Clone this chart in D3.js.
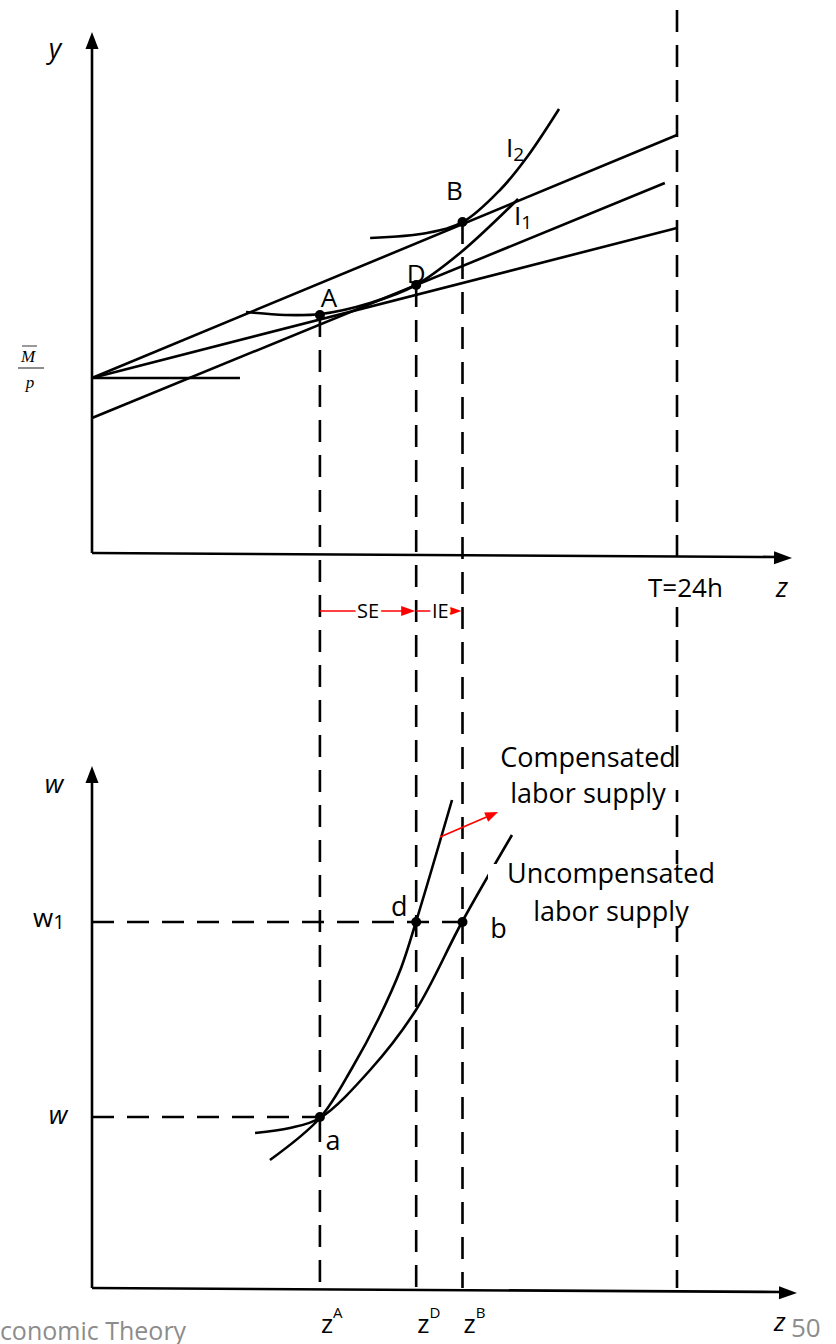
<!DOCTYPE html>
<html lang="en">
<head>
  <meta charset="UTF-8" />
  <title>Slutsky decomposition – labor supply</title>
  <script src="https://d3js.org/d3.v7.min.js"></script>
  <style>
    html, body { margin: 0; padding: 0; background: #fff; }
    svg text { font-family: "Open Sans", sans-serif; fill: #000; }
    .it { font-style: italic; }
    .serif { font-family: "Liberation Serif", "DejaVu Serif", serif; font-style: italic; }
    .grey { fill: #8c8c8c; }
  </style>
</head>
<body>
<div id="chart"></div>
<script>
  // z = leisure hours, v = consumption (top panel), w = wage (bottom panel)
  const zMarks = [9.35, 13.3, 15.2];          // zA, zD, zB
  const zMarkNames = ["A", "D", "B"];
  const zT = 24;                               // T = 24h

  // budget lines, [z, v]
  const endowmentLine = [[0, 35], [6.07, 35]];
  const budgetOriginal = [[0, 35], [24, 65.0]];
  const budgetNew = [[0, 35], [24, 83.6]];
  const budgetComp = [[0, 27], [23.5, 74]];

  // indifference curves
  const curveI1 = [[6.32, 48.2], [7.92, 47.6], [9.39, 47.8], [11.41, 50.0], [13.29, 53.6], [15.10, 60.0], [17.48, 70.8]];
  const curveI2 = [[11.41, 63.0], [13.74, 64.0], [15.22, 66.2], [16.74, 72.6], [17.85, 79.2], [19.16, 88.8]];

  // chosen bundles
  const topPoints = [[9.35, 47.6], [13.3, 53.6], [15.2, 66.2]];

  // labor supply curves, [z, w]
  const compSupply = [[7.30, 2.56], [9.35, 3.40], [10.67, 4.40], [11.77, 5.40], [12.68, 6.40], [13.29, 7.32], [14.77, 9.76]];
  const uncompSupply = [[6.69, 3.10], [8.12, 3.20], [9.35, 3.40], [11.41, 4.36], [13.29, 5.56], [15.18, 7.32], [17.23, 9.06]];
  const wLevels = [3.42, 7.32];                // w, w1
  const bottomPoints = [[9.35, 3.42], [13.3, 7.32], [15.2, 7.32]];
  const bottomNames = ["a", "d", "b"];
  const shiftArrow = [[14.28, 9.02], [16.66, 9.52]];

  const W = 836, H = 1344;
  const svg = d3.select("#chart").append("svg")
    .attr("width", W).attr("height", H);

  const x = d3.scaleLinear().domain([0, 24]).range([92, 677]);
  const yTop = d3.scaleLinear().domain([0, 100]).range([553, 53]);
  const yBot = d3.scaleLinear().domain([0, 10]).range([1288, 788]);

  const lineTop = d3.line().x(d => x(d[0])).y(d => yTop(d[1]));
  const curveTop = d3.line().x(d => x(d[0])).y(d => yTop(d[1])).curve(d3.curveCatmullRom.alpha(0.5));
  const curveBot = d3.line().x(d => x(d[0])).y(d => yBot(d[1])).curve(d3.curveCatmullRom.alpha(0.5));

  const solid = g => g.attr("fill", "none").attr("stroke", "#000").attr("stroke-width", 2.6);
  const dashed = g => g.attr("stroke", "#000").attr("stroke-width", 2.6).attr("stroke-dasharray", "22,13");

  // arrow head polygon pointing from (x1,y1) to (x2,y2)
  function arrowHead(g, x1, y1, x2, y2, len, half, color) {
    const a = Math.atan2(y2 - y1, x2 - x1);
    const bx = x2 - len * Math.cos(a), by = y2 - len * Math.sin(a);
    const px = -Math.sin(a) * half, py = Math.cos(a) * half;
    g.append("path")
      .attr("d", `M${x2},${y2}L${bx + px},${by + py}L${bx - px},${by - py}Z`)
      .attr("fill", color);
  }

  // ---- vertical dashed guides ----
  zMarks.forEach((z, i) => {
    svg.append("line")
      .attr("x1", x(z)).attr("x2", x(z))
      .attr("y1", yTop(topPoints[i][1])).attr("y2", yBot(0))
      .call(dashed);
  });
  svg.append("line")
    .attr("x1", x(zT)).attr("x2", x(zT))
    .attr("y1", 10).attr("y2", yBot(0))
    .call(dashed);

  // ---- horizontal dashed guides (bottom) ----
  wLevels.forEach((w, i) => {
    svg.append("line")
      .attr("x1", x(0)).attr("x2", x(i === 0 ? zMarks[0] : zMarks[2]))
      .attr("y1", yBot(w)).attr("y2", yBot(w))
      .call(dashed);
  });

  // ---- axes ----
  const axes = svg.append("g");
  // top panel
  axes.append("line").attr("x1", x(0)).attr("x2", x(0)).attr("y1", yTop(0)).attr("y2", 46).call(solid);
  arrowHead(axes, x(0), 100, x(0), 32, 17, 6.5, "#000");
  axes.append("line").attr("x1", x(0)).attr("x2", 776).attr("y1", yTop(0)).attr("y2", 557).call(solid);
  arrowHead(axes, x(0), 553, 792, 558, 18, 6.5, "#000");
  // bottom panel
  axes.append("line").attr("x1", x(0)).attr("x2", x(0)).attr("y1", yBot(0)).attr("y2", 780).call(solid);
  arrowHead(axes, x(0), 900, x(0), 766, 17, 6.5, "#000");
  axes.append("line").attr("x1", x(0)).attr("x2", 780).attr("y1", yBot(0)).attr("y2", 1292).call(solid);
  arrowHead(axes, x(0), 1288, 797, 1293, 18, 6.5, "#000");

  // ---- top panel lines and curves ----
  [endowmentLine, budgetOriginal, budgetNew, budgetComp].forEach(l => {
    svg.append("path").attr("d", lineTop(l)).call(solid);
  });
  svg.append("path").attr("d", curveTop(curveI1)).call(solid);
  svg.append("path").attr("d", curveTop(curveI2)).call(solid);

  svg.selectAll(".tp").data(topPoints).enter().append("circle")
    .attr("cx", d => x(d[0])).attr("cy", d => yTop(d[1])).attr("r", 5);

  // point labels
  const topLabelOffsets = [[9, -8], [0, -2], [-8, -22]];
  topPoints.forEach((d, i) => {
    svg.append("text")
      .attr("x", x(d[0]) + topLabelOffsets[i][0])
      .attr("y", yTop(d[1]) + topLabelOffsets[i][1])
      .attr("text-anchor", "middle")
      .style("font-size", "26px")
      .text(zMarkNames[i]);
  });

  // curve labels I2, I1
  function subLabel(xp, yp, main, sub) {
    const t = svg.append("text").attr("x", xp).attr("y", yp).style("font-size", "26px");
    t.append("tspan").text(main);
    t.append("tspan").attr("dy", 4).style("font-size", "19px").text(sub);
  }
  subLabel(506, 157, "I", "2");
  subLabel(514, 225, "I", "1");

  // axis labels top
  svg.append("text").attr("class", "it").attr("x", 55).attr("y", 58)
    .attr("text-anchor", "middle").style("font-size", "27px").text("y");
  svg.append("rect").attr("x", 645).attr("y", 563).attr("width", 82).attr("height", 44).attr("fill", "#fff");
  svg.append("text").attr("x", 648).attr("y", 597).style("font-size", "26px").text("T=24h");
  svg.append("text").attr("class", "it").attr("x", 776).attr("y", 597).style("font-size", "27px").text("z");

  // M/p fraction
  const frac = svg.append("g");
  frac.append("text").attr("class", "serif").attr("x", 28).attr("y", 362)
    .attr("text-anchor", "middle").style("font-size", "17px").text("M");
  frac.append("line").attr("x1", 22).attr("x2", 37).attr("y1", 346).attr("y2", 346)
    .attr("stroke", "#000").attr("stroke-width", 0.8);
  frac.append("line").attr("x1", 18).attr("x2", 44).attr("y1", 368).attr("y2", 368)
    .attr("stroke", "#000").attr("stroke-width", 0.9);
  frac.append("text").attr("class", "serif").attr("x", 30).attr("y", 388)
    .attr("text-anchor", "middle").style("font-size", "17px").text("p");

  // ---- SE / IE arrows ----
  const seY = yTop(-11.6);
  const red = "#ff0000";
  [[zMarks[0], zMarks[1]], [zMarks[1], zMarks[2]]].forEach(([a, b]) => {
    svg.append("line").attr("x1", x(a)).attr("x2", x(b) - 10)
      .attr("y1", seY).attr("y2", seY)
      .attr("stroke", red).attr("stroke-width", 1.6);
    arrowHead(svg, x(a), seY, x(b) - 1, seY, 14, 5, red);
  });
  [["SE", (x(zMarks[0]) + x(zMarks[1])) / 2], ["IE", (x(zMarks[1]) + x(zMarks[2])) / 2 + 1]].forEach(([t, xp]) => {
    svg.append("text").attr("x", xp).attr("y", seY + 7)
      .attr("text-anchor", "middle").style("font-size", "20px")
      .attr("stroke", "#fff").attr("stroke-width", 7).attr("paint-order", "stroke")
      .style("stroke-linejoin", "round")
      .text(t);
  });

  // ---- bottom panel curves ----
  svg.append("path").attr("d", curveBot(compSupply)).call(solid);
  svg.append("path").attr("d", curveBot(uncompSupply)).call(solid);

  // red arrow to compensated label
  const ax1 = x(shiftArrow[0][0]), ay1 = yBot(shiftArrow[0][1]);
  const ax2 = x(shiftArrow[1][0]), ay2 = yBot(shiftArrow[1][1]);
  svg.append("line").attr("x1", ax1).attr("y1", ay1)
    .attr("x2", ax1 + (ax2 - ax1) * 0.8).attr("y2", ay1 + (ay2 - ay1) * 0.8)
    .attr("stroke", red).attr("stroke-width", 1.8);
  arrowHead(svg, ax1, ay1, ax2, ay2, 13, 5, red);

  // labels of supply curves (white boxes behind, like the original)
  svg.append("rect").attr("x", 488).attr("y", 864).attr("width", 232).attr("height", 64).attr("fill", "#fff");
  svg.append("rect").attr("x", 500).attr("y", 768).attr("width", 180).attr("height", 22).attr("fill", "#fff");
  [["Compensated", 588, 767], ["labor supply", 588, 803], ["Uncompensated", 611, 883], ["labor supply", 611, 921]]
    .forEach(([t, xp, yp]) => {
      svg.append("text").attr("x", xp).attr("y", yp).attr("text-anchor", "middle")
        .style("font-size", "27px").text(t);
    });

  // points a, d, b and their labels
  svg.selectAll(".bp").data(bottomPoints).enter().append("circle")
    .attr("cx", d => x(d[0])).attr("cy", d => yBot(d[1])).attr("r", 5);

  const botLabelOffsets = [[13, 33], [-17, -6], [36, 16]];
  bottomPoints.forEach((d, i) => {
    svg.append("text")
      .attr("x", x(d[0]) + botLabelOffsets[i][0])
      .attr("y", yBot(d[1]) + botLabelOffsets[i][1])
      .attr("text-anchor", "middle")
      .style("font-size", "27px")
      .text(bottomNames[i]);
  });

  // axis labels bottom
  svg.append("text").attr("class", "it").attr("x", 54).attr("y", 793)
    .attr("text-anchor", "middle").style("font-size", "26px").text("w");
  const w1 = svg.append("text").attr("x", 33).attr("y", 927).style("font-size", "26px");
  w1.append("tspan").text("w");
  w1.append("tspan").attr("dy", 2).style("font-size", "20px").text("1");
  svg.append("text").attr("class", "it").attr("x", 58).attr("y", 1124)
    .attr("text-anchor", "middle").style("font-size", "26px").text("w");

  zMarks.forEach((z, i) => {
    const t = svg.append("text").attr("x", x(z) + 1).attr("y", 1333).style("font-size", "26px");
    t.append("tspan").text("z");
    t.append("tspan").attr("dy", -15).style("font-size", "15px").text(zMarkNames[i]);
  });
  svg.append("text").attr("class", "it").attr("x", 774).attr("y", 1331).style("font-size", "26px").text("z");

  // footer
  svg.append("text").attr("class", "grey").attr("x", -14).attr("y", 1340).style("font-size", "25px").text("Economic Theory");
  svg.append("text").attr("class", "grey").attr("x", 791).attr("y", 1337).style("font-size", "26px").text("50");
</script>
</body>
</html>
